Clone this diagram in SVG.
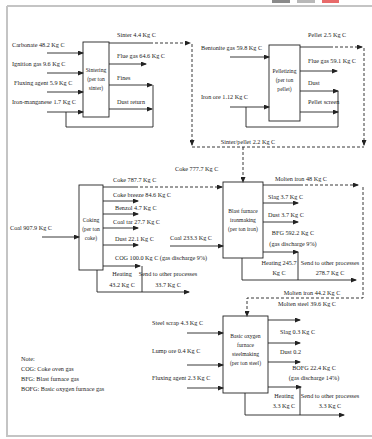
<svg xmlns="http://www.w3.org/2000/svg" width="372" height="439" viewBox="0 0 372 439">
<defs>
<marker id="ah" markerUnits="userSpaceOnUse" markerWidth="6" markerHeight="5" refX="5" refY="2.5" orient="auto">
<path d="M0,0 L6,2.5 L0,5 z" fill="#222"/>
</marker>
</defs>
<style>
text{font-family:"Liberation Serif","Times New Roman",serif;font-size:6.2px;fill:#222}
.bt{font-size:5.6px;text-anchor:middle}
.m{text-anchor:middle}
.box{fill:#fff;stroke:#222;stroke-width:0.9}
.ln{fill:none;stroke:#222;stroke-width:0.9}
.ar{fill:none;stroke:#222;stroke-width:0.9;marker-end:url(#ah)}
.da{fill:none;stroke:#222;stroke-width:0.9;stroke-dasharray:3 2}
.dar{fill:none;stroke:#222;stroke-width:0.9;stroke-dasharray:3 2;marker-end:url(#ah)}
.frame{fill:none;stroke:#c4c4c4;stroke-width:2}
</style>
<rect width="372" height="439" fill="#fff"/>
<g id="frame">
<path class="frame" d="M7,6 H372 M7,6 V436 H372"/>
<rect x="272" y="0" width="18" height="3" fill="#8a8a8a"/>
<rect x="297" y="0" width="18" height="3" fill="#b8b8b8"/>
<rect x="322" y="0" width="17" height="3" fill="#e86a6a"/>
</g>
<g id="sintering">
<rect class="box" x="83" y="42" width="26" height="75"/>
<text class="bt" x="96" y="72">Sintering</text>
<text class="bt" x="96" y="81">(per ton</text>
<text class="bt" x="96" y="90">sinter)</text>
</g>
<g id="pelletizing">
<rect class="box" x="269" y="45" width="31" height="76"/>
<text class="bt" x="284.5" y="73">Pelletizing</text>
<text class="bt" x="284.5" y="82">(per ton</text>
<text class="bt" x="284.5" y="91">pellet)</text>
</g>
<g id="coking">
<rect class="box" x="79" y="185" width="24" height="85"/>
<text class="bt" x="91" y="222">Coking</text>
<text class="bt" x="91" y="231">(per ton</text>
<text class="bt" x="91" y="240">coke)</text>
</g>
<g id="blast-furnace">
<rect class="box" x="223" y="182" width="40" height="76"/>
<text class="bt" x="243" y="213">Blast furnace</text>
<text class="bt" x="243" y="222">ironmaking</text>
<text class="bt" x="243" y="231">(per ton iron)</text>
</g>
<g id="bof">
<rect class="box" x="223" y="316" width="45" height="77"/>
<text class="bt" x="245.5" y="338">Basic oxygen</text>
<text class="bt" x="245.5" y="347">furnace</text>
<text class="bt" x="245.5" y="356">steelmaking</text>
<text class="bt" x="245.5" y="365">(per ton steel)</text>
</g>
<g id="connectors">
<text x="12" y="47">Carbonate 48.2 Kg C</text>
<path class="ar" d="M47,53 H83"/>
<text x="12" y="66">Ignition gas 9.6 Kg C</text>
<path class="ar" d="M47,73 H83"/>
<text x="14" y="85">Fluxing agent 5.9 Kg C</text>
<path class="ar" d="M47,92 H83"/>
<text x="12" y="104">Iron-manganese 1.7 Kg C</text>
<path class="ar" d="M47,112 H83"/>
<text x="117" y="37">Sinter 4.4 Kg C</text>
<path class="ln" d="M109,43 H150"/>
<path class="dar" d="M150,43 H190"/>
<text x="117" y="58">Flue gas 64.6 Kg C</text>
<path class="ar" d="M109,64 H146"/>
<text x="117" y="80">Fines</text>
<path class="ar" d="M109,85 H152"/>
<text x="117" y="104">Dust return</text>
<path class="ar" d="M109,109 H152"/>
<path class="ln" d="M153,85 V127 H66 V112"/>
<text x="201" y="50">Bentonite gas 59.8 Kg C</text>
<path class="ar" d="M230,57 H269"/>
<text x="201" y="99">Iron ore 1.12 Kg C</text>
<path class="ar" d="M230,107 H269"/>
<text x="308" y="37">Pellet 2.5 Kg C</text>
<path class="ln" d="M300,47 H330"/>
<path class="dar" d="M330,47 H362"/>
<text x="308" y="63">Flue gas 59.1 Kg C</text>
<path class="ar" d="M300,71 H337"/>
<text x="308" y="85">Dust</text>
<path class="ar" d="M300,91 H338"/>
<text x="308" y="104">Pellet screen</text>
<path class="ar" d="M300,112 H338"/>
<path class="ln" d="M338,91 V127 H246 V107"/>
<path class="dar" d="M192,44 V145"/>
<path class="dar" d="M364,48 V145"/>
<path class="da" d="M192,147 H364"/>
<text class="m" x="248" y="144">Sinter/pellet 2.2 Kg C</text>
<path class="dar" d="M243,147 V182"/>
<text x="10" y="230">Coal 907.9 Kg C</text>
<path class="ar" d="M42,237 H79"/>
<text x="113" y="182">Coke 787.7 Kg C</text>
<path class="ln" d="M103,187 H135"/>
<path class="dar" d="M135,187 H222"/>
<text x="175" y="171">Coke 777.7 Kg C</text>
<text x="113" y="197">Coke breeze 84.6 Kg C</text>
<path class="ar" d="M103,201 H138"/>
<text x="115" y="210">Benzol 4.7 Kg C</text>
<path class="ar" d="M103,214 H138"/>
<text x="113" y="224">Coal tar 27.7 Kg C</text>
<path class="ar" d="M103,228 H138"/>
<text x="115" y="241">Dust 22.1 Kg C</text>
<path class="ar" d="M103,245 H138"/>
<text x="115" y="260">COG 100.0 Kg C (gas discharge 9%)</text>
<path class="ar" d="M103,266 H140"/>
<path class="ln" d="M142,266 V292"/>
<text class="m" x="122" y="276">Heating</text>
<text class="m" x="122" y="287">43.2 Kg C</text>
<text class="m" x="168" y="276">Send to other processes</text>
<text class="m" x="168" y="287">33.7 Kg C</text>
<path class="ar" d="M97,270 V292 H189"/>
<text x="170" y="240">Coal 233.3 Kg C</text>
<path class="ar" d="M170,246 H223"/>
<text x="275" y="181">Molten iron 48 Kg C</text>
<path class="ln" d="M263,185 H300"/>
<path class="dar" d="M300,185 H358"/>
<path class="dar" d="M363,187 V298 H247 V316"/>
<text class="m" x="312" y="295">Molten iron 44.2 Kg C</text>
<text x="268" y="199">Slag 3.7 Kg C</text>
<path class="ar" d="M263,203 H298"/>
<text x="268" y="217">Dust 3.7 Kg C</text>
<path class="ar" d="M263,222 H298"/>
<text class="m" x="293" y="235">BFG 592.2 Kg C</text>
<text class="m" x="293" y="246">(gas discharge 9%)</text>
<path class="ar" d="M263,252 H298"/>
<path class="ln" d="M298,252 V280"/>
<text class="m" x="279" y="265">Heating 245.7</text>
<text class="m" x="279" y="275">Kg C</text>
<text class="m" x="330" y="265">Send to other processes</text>
<text class="m" x="330" y="275">278.7 Kg C</text>
<path class="ar" d="M242,258 V280 H356"/>
<text x="152" y="325">Steel scrap 4.3 Kg C</text>
<path class="ar" d="M187,333 H223"/>
<text x="152" y="353">Lump ore 0.4 Kg C</text>
<path class="ar" d="M187,365 H223"/>
<text x="152" y="380">Fluxing agent 2.3 Kg C</text>
<path class="ar" d="M187,388 H223"/>
<text x="278" y="306">Molten steel 39.6 Kg C</text>
<path class="ar" d="M268,320 H300"/>
<text x="280" y="334">Slag 0.3 Kg C</text>
<path class="ar" d="M268,343 H300"/>
<text x="280" y="354">Dust 0.2</text>
<path class="ar" d="M268,362 H300"/>
<text class="m" x="314" y="370">BOFG 22.4 Kg C</text>
<text class="m" x="314" y="380">(gas discharge 14%)</text>
<path class="ar" d="M268,387 H301"/>
<path class="ln" d="M300,387 V415"/>
<text class="m" x="284" y="398">Heating</text>
<text class="m" x="284" y="408">3.3 Kg C</text>
<text class="m" x="330" y="398">Send to other processes</text>
<text class="m" x="330" y="408">3.3 Kg C</text>
<path class="ar" d="M245,393 V415 H344"/>
</g>
<g id="note">
<text x="21" y="361">Note:</text>
<text x="21" y="371">COG: Coke oven gas</text>
<text x="21" y="381">BFG: Blast furnace gas</text>
<text x="21" y="391">BOFG: Basic oxygen furnace gas</text>
</g>
</svg>
